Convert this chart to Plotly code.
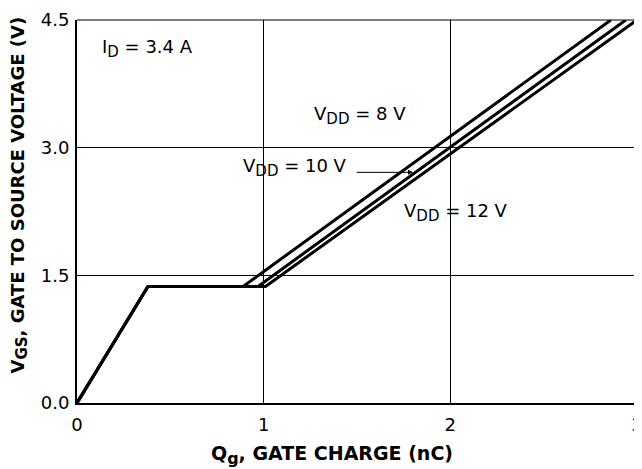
import plotly.graph_objects as go

# Gate charge curves (nC, V) for each VDD
labels = ["V<sub>DD</sub> = 8 V", "V<sub>DD</sub> = 10 V", "V<sub>DD</sub> = 12 V"]
qg_8 = [0.0, 0.38, 0.89, 2.86]
vgs_8 = [0.0, 1.37, 1.37, 4.5]
qg_10 = [0.0, 0.38, 0.97, 2.94]
vgs_10 = [0.0, 1.37, 1.37, 4.5]
qg_12 = [0.0, 0.38, 1.01, 3.0]
vgs_12 = [0.0, 1.37, 1.37, 4.5]

x_ticks = [0, 1, 2, 3]
y_ticks = [0.0, 1.5, 3.0, 4.5]

FONT = "DejaVu Sans, Liberation Sans, Arial, sans-serif"
FS = 18


def sub(s, size=15):
    return f'<sub><span style="font-size:{size}px">{s}</span></sub>'


fig = go.Figure()
for qx, vy in [(qg_8, vgs_8), (qg_10, vgs_10), (qg_12, vgs_12)]:
    fig.add_trace(go.Scatter(x=qx, y=vy, mode="lines",
                             line=dict(color="black", width=3),
                             showlegend=False, hoverinfo="skip"))

# page body has an 8px default margin; compensate so the plot lands in place
fig.update_layout(
    width=634, height=461,
    margin=dict(l=69, r=5, t=12, b=66),
    plot_bgcolor="white", paper_bgcolor="white",
    font=dict(family=FONT, size=FS, color="black"),
)
fig.update_xaxes(range=[0, 3], tickvals=x_ticks, ticktext=[str(v) for v in x_ticks],
                 showgrid=True, gridcolor="black", gridwidth=1,
                 showline=True, linecolor="black", linewidth=2,
                 zeroline=False, ticks="", ticklen=0, automargin=False,
                 ticklabeloverflow="allow", ticklabelstandoff=4,
                 tickfont=dict(size=18))
fig.update_yaxes(range=[0, 4.5], tickvals=y_ticks, ticktext=[f"{v:.1f}" for v in y_ticks],
                 showgrid=True, gridcolor="black", gridwidth=1,
                 showline=True, linecolor="black", linewidth=2,
                 zeroline=False, ticks="", ticklen=0, automargin=False,
                 ticklabeloverflow="allow", ticklabelstandoff=2,
                 tickfont=dict(size=18))

# axis titles
fig.add_annotation(xref="paper", yref="paper", x=0.5, xshift=-25, y=0, yshift=-52,
                   yanchor="middle", xanchor="center",
                   text=f"<b>Q{sub('g', 16)}, GATE CHARGE (nC)</b>", showarrow=False,
                   font=dict(size=19))
fig.add_annotation(xref="paper", yref="paper", x=0, xshift=-58, y=0.5, yshift=16,
                   xanchor="center", yanchor="middle", textangle=-90,
                   text=f"<b>V{sub('GS', 15)}, GATE TO SOURCE VOLTAGE (V)</b>", showarrow=False,
                   font=dict(size=18))

# top and right borders (thin)
fig.add_shape(type="line", xref="paper", yref="paper", x0=0, x1=1, y0=1, y1=1,
              line=dict(color="black", width=1))
fig.add_shape(type="line", xref="paper", yref="paper", x0=1, x1=1, y0=0, y1=1,
              line=dict(color="black", width=1))

fig.add_annotation(x=0.125, y=4.17, text=f"I{sub('D')} = 3.4 A", showarrow=False,
                   xanchor="left", yanchor="middle", font=dict(size=FS))
fig.add_annotation(x=1.26, y=3.38, text=f"V{sub('DD')} = 8 V", showarrow=False,
                   xanchor="left", yanchor="middle", font=dict(size=FS))
fig.add_annotation(x=0.88, y=2.77, text=f"V{sub('DD')} = 10 V", showarrow=False,
                   xanchor="left", yanchor="middle", font=dict(size=FS))
fig.add_annotation(x=1.74, y=2.24, text=f"V{sub('DD')} = 12 V", showarrow=False,
                   xanchor="left", yanchor="middle", font=dict(size=FS))
fig.add_annotation(x=1.80, y=2.71, ax=1.49, ay=2.71, axref="x", ayref="y",
                   text="", showarrow=True, arrowhead=2, arrowsize=1,
                   arrowwidth=1, arrowcolor="black")

fig.write_html("out.html")
